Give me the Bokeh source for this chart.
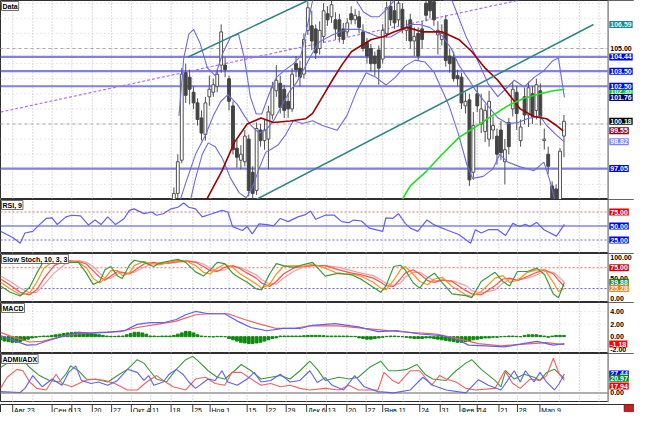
from bokeh.plotting import figure
from bokeh.layouts import column
from bokeh.models import Range1d, Label
from bokeh.core.properties import value
from bokeh.embed import file_html
from bokeh.resources import INLINE

# ---------------- data ----------------
first_candle_day = 44
opens = [94.5, 95.4, 97.6, 103.4, 103.1, 102.1, 101.4, 100.4, 99.3, 101.8,
         102.1, 102.5, 103.9, 103.9, 103.0, 101.2, 98.4, 97.6, 97.5, 99.0,
         96.8, 95.6, 99.6, 98.9, 99.0, 100.6, 102.2, 102.7, 102.3, 101.5,
         101.0, 104.0, 103.7, 103.3, 106.2, 106.5, 106.3, 105.0, 105.8, 107.3,
         107.1, 106.9, 106.9, 106.3, 106.1, 107.3, 106.9, 107.1, 106.1, 105.4,
         105.0, 104.5, 104.9, 104.3, 106.0, 107.8, 107.5, 106.9, 107.6, 106.2,
         106.9, 105.5, 106.0, 106.3, 108.0, 108.2, 108.1, 105.9, 105.6, 106.9,
         104.5, 104.4, 103.2, 103.1, 101.2, 101.6, 96.8, 102.0, 100.0, 99.5,
         99.0, 99.6, 99.2, 99.6, 97.5, 100.1, 101.0, 102.1, 98.9, 101.8,
         100.6, 102.0, 100.9, 102.2, 98.9, 98.0, 95.9, 95.7, 95.0, 99.2]
closes = [95.4, 97.5, 103.3, 101.9, 102.3, 101.4, 100.3, 99.4, 101.4, 102.3,
          102.6, 103.3, 106.1, 103.6, 101.5, 98.3, 97.8, 98.0, 99.2, 95.6,
          95.4, 99.7, 98.9, 99.6, 100.8, 102.4, 102.9, 101.1, 100.9, 101.0,
          103.3, 103.6, 103.1, 105.6, 107.7, 105.5, 104.7, 106.2, 107.5, 106.9,
          107.9, 106.3, 105.8, 105.6, 106.7, 106.9, 107.2, 106.4, 105.0, 104.5,
          104.0, 104.0, 103.7, 106.2, 107.7, 106.9, 106.7, 108.0, 106.3, 106.4,
          105.5, 105.8, 104.5, 105.6, 107.2, 107.5, 106.9, 106.2, 106.0, 104.2,
          104.0, 103.0, 103.0, 101.4, 101.5, 96.3, 99.9, 101.2, 101.0, 100.9,
          101.5, 99.9, 98.0, 98.1, 98.3, 98.5, 102.3, 100.7, 99.8, 100.6,
          102.4, 100.5, 102.6, 100.5, 99.0, 97.2, 95.0, 94.8, 98.2, 100.18]
highs = [95.8, 98.0, 103.7, 104.0, 103.6, 102.5, 101.7, 100.9, 101.8, 103.2,
         103.0, 103.6, 106.6, 104.4, 103.2, 101.5, 99.0, 98.6, 99.6, 99.3,
         97.2, 100.1, 100.0, 100.3, 101.2, 102.8, 103.9, 103.2, 102.6, 102.0,
         103.7, 104.5, 104.2, 106.0, 108.1, 107.5, 106.6, 106.8, 108.0, 107.8,
         108.2, 107.4, 107.3, 106.7, 107.0, 107.8, 107.6, 107.5, 106.6, 105.7,
         105.3, 104.8, 105.2, 106.6, 108.1, 108.2, 108.2, 108.2, 108.0, 106.9,
         107.3, 106.4, 106.4, 106.8, 108.2, 108.2, 108.2, 106.8, 106.6, 107.2,
         105.0, 104.8, 103.6, 103.4, 102.1, 102.0, 100.8, 102.6, 102.0, 101.3,
         102.2, 100.5, 99.7, 100.2, 99.0, 100.4, 102.8, 102.5, 100.3, 102.4,
         102.8, 102.5, 103.0, 102.7, 99.7, 98.5, 96.2, 96.0, 98.4, 100.6]
lows = [94.2, 95.1, 97.4, 101.4, 101.3, 101.0, 99.9, 98.9, 98.9, 101.2,
        101.8, 102.1, 103.4, 103.1, 100.9, 98.0, 97.1, 97.0, 97.2, 95.2,
        94.9, 95.3, 98.5, 98.3, 97.0, 100.3, 101.8, 100.7, 100.4, 100.4,
        100.8, 103.1, 102.5, 103.0, 105.9, 104.9, 104.3, 104.6, 105.4, 106.5,
        106.7, 105.6, 105.4, 105.3, 105.8, 106.6, 106.6, 106.0, 104.8, 104.0,
        103.5, 103.2, 102.6, 104.0, 105.7, 106.5, 106.3, 106.5, 106.0, 105.5,
        105.0, 104.5, 104.2, 105.0, 106.8, 107.0, 106.5, 104.6, 105.2, 103.8,
        103.4, 102.8, 102.5, 101.0, 100.7, 95.9, 96.3, 100.8, 99.4, 98.8,
        98.5, 99.0, 97.3, 97.6, 96.0, 98.0, 100.5, 99.6, 98.5, 100.0,
        99.8, 100.0, 100.3, 99.9, 98.3, 96.7, 94.5, 94.3, 94.6, 97.8]

ma_red_day = [51.5, 56.2, 59.4, 62.6, 66.1, 69.3, 73.5, 77.5, 79.2, 81.7, 84.2, 86.6,
              89.1, 91.6, 94.1, 97.3, 99.8, 103.2, 107.2, 112.1, 116.3, 119.6, 123.0,
              126.2, 129.5, 131.9, 135.4, 138.6, 141.1, 142.8]
ma_red = [94.6, 96.9, 98.8, 100.0, 100.4, 100.1, 100.2, 100.35, 100.7, 101.8, 102.9, 103.9,
          104.8, 105.2, 105.6, 105.8, 106.1, 106.4, 106.1, 106.1, 105.6, 104.8, 103.7,
          102.9, 101.8, 101.0, 100.5, 100.35, 99.9, 99.55]
ma_green_day = [101.5, 104.0, 108.2, 112.1, 116.3, 120.5, 124.5, 128.7, 132.9, 136.9, 140.3, 143.1]
ma_green = [94.8, 95.9, 96.9, 98.0, 99.1, 99.8, 100.5, 101.2, 101.7, 102.0, 102.2, 102.3]

bb_up_day = [45.3, 46.5, 47.8, 49.0, 50.7, 52.5, 54.5, 56.4, 58.4, 60.4, 61.9, 63.4, 64.9,
             66.3, 68.1, 70.0, 72.3, 74.3, 76.2, 77.7, 79.2, 81.7, 85.4, 88.6, 90.3, 92.1,
             94.1, 96.0, 97.8, 99.5, 101.5, 105.2, 108.9, 112.6, 114.6, 118.1, 120.5,
             123.8, 126.2, 128.7, 130.4, 132.9, 135.4, 137.9, 140.3, 141.6, 143.1]
bb_up = [100.54, 104.36, 105.95, 106.27, 105.31, 103.72, 103.21, 104.68, 105.76, 105.95,
         104.36, 101.81, 100.66, 100.66, 101.94, 103.09, 103.6, 103.98, 104.49, 106.27,
         108.18, 109.45, 109.77, 108.82, 108.18, 107.42, 107.1, 107.1, 107.54, 108.05,
         108.94, 109.45, 109.14, 108.18, 108.18, 105.82, 104.55, 102.64, 101.81, 102.45,
         102.9, 102.45, 103.09, 103.53, 104.23, 104.36, 101.76]
bb_mid_day = [45.0, 47.0, 49.5, 52.0, 54.0, 55.9, 57.7, 60.1, 61.9, 63.6, 65.6, 67.3, 69.3,
              71.3, 73.3, 75.2, 77.2, 78.7, 80.9, 84.2, 87.9, 91.1, 93.6, 96.0, 99.0, 101.5,
              104.0, 106.4, 108.9, 112.1, 114.4, 116.3, 118.8, 120.5, 123.8, 126.2, 128.7,
              131.2, 133.7, 136.9, 138.6, 141.1, 143.1]
bb_mid = [94.49, 96.08, 97.99, 99.26, 100.54, 101.49, 101.94, 101.3, 100.54, 99.9, 99.39,
          99.58, 100.22, 101.17, 102.13, 102.77, 103.72, 104.49, 105.44, 105.89, 106.27,
          106.27, 106.01, 105.76, 105.76, 106.14, 106.59, 106.59, 106.4, 105.82, 105.0,
          103.91, 102.96, 102.26, 101.17, 100.41, 100.03, 100.09, 100.35, 100.54, 99.9,
          99.26, 98.82]
bb_low_day = [47.8, 49.5, 51.2, 52.7, 54.5, 56.4, 58.4, 60.6, 62.4, 63.9, 65.6, 67.3, 68.6,
              70.5, 72.3, 74.3, 76.7, 79.2, 81.7, 85.4, 87.9, 90.3, 92.8, 95.3, 97.8, 100.2,
              102.7, 105.2, 107.7, 110.1, 113.9, 116.3, 118.3, 119.8, 122.5, 125.0, 126.7,
              128.7, 131.9, 135.4, 137.9, 139.4, 140.8, 143.1]
bb_low = [94.49, 96.4, 97.99, 98.75, 98.5, 97.67, 96.4, 95.44, 95.12, 95.76, 97.03, 98.12,
          98.31, 98.63, 99.26, 100.22, 100.03, 100.22, 99.9, 99.58, 100.54, 102.13, 103.4,
          103.09, 102.58, 103.09, 103.85, 104.23, 104.11, 103.4, 101.17, 99.26, 97.35,
          96.4, 96.53, 97.03, 97.99, 97.48, 97.16, 96.91, 97.48, 96.27, 94.8, 93.53]

trend_up_day = [47.5, 78.0]
trend_up_price = [104.42, 108.18]
trend_low_day = [64.9, 150.5]
trend_low_price = [95.0, 106.59]
trend_dash_day = [0.0, 131.2]
trend_dash_price = [100.79, 108.18]
level_prices = [104.44, 103.50, 102.50, 97.05]

rsi_day = [0.0, 3.2, 5.0, 6.2, 8.2, 9.9, 11.6, 13.1, 14.4, 16.6, 18.1, 20.3, 22.3, 24.0, 25.5,
           27.2, 29.2, 31.4, 32.7, 33.9, 36.4, 38.4, 39.6, 41.3, 43.3, 45.0, 46.5, 47.8, 49.5,
           51.2, 53.7, 56.2, 57.7, 58.9, 61.4, 62.6, 63.9, 65.6, 67.6, 69.3, 71.0, 73.0, 75.5,
           77.2, 78.7, 80.0, 82.4, 84.7, 86.6, 88.4, 89.6, 91.6, 93.6, 97.0, 97.8, 99.5, 101.0,
           102.7, 104.0, 105.9, 108.2, 110.1, 113.1, 116.3, 119.3, 120.5, 122.0, 123.8, 126.2,
           128.2, 130.0, 131.7, 133.2, 134.4, 136.1, 137.9, 141.1, 143.1]
rsi = [40.5, 29, 19.3, 37.6, 40.5, 52.6, 63.5, 64.7, 52.6, 66.4, 69.3, 68, 52, 60.7, 52.6,
       66.4, 52.6, 63.5, 77.9, 80.7, 72.1, 75, 69.3, 72, 80.7, 83.6, 91, 83.6, 80.7,
       66.4, 72, 78, 75, 49, 42, 49, 36, 53.8, 52.6, 50.3, 63.5, 57.8, 66.4,
       69.8, 76.7, 62, 69.3, 69.3, 57.8, 56, 60.7, 59, 46.3, 40.5, 64.7, 63.5, 72,
       54.8, 46.3, 40.5, 60.7, 52, 43.4, 34.8, 19.3, 43.4, 37.6, 43.4, 43.4,
       33, 54.8, 49, 53, 49, 56.6, 43.4, 32, 53]

sto_day = [0.0, 2.5, 5.0, 7.4, 9.2, 11.1, 13.6, 16.6, 19.8, 21.8, 23.5, 25.2, 26.5, 28.0, 29.7,
           30.9, 32.7, 33.9, 36.4, 38.9, 40.3, 42.8, 45.0, 47.0, 49.5, 51.5, 53.2, 55.0, 56.9,
           58.9, 60.6, 62.6, 64.9, 66.3, 68.3, 70.0, 71.8, 74.3, 76.7, 79.2, 82.4, 85.9, 89.1,
           91.6, 94.6, 96.5, 97.8, 99.8, 101.5, 102.7, 104.7, 106.4, 108.4, 110.1, 112.1, 114.6,
           118.1, 119.6, 122.0, 125.5, 127.5, 129.2, 131.2, 133.7, 136.1, 138.1, 140.3, 141.6, 143.1]
sto_k = [31, 16, 7, 28, 62, 93, 95, 88, 88, 62, 35, 42, 70, 78, 55, 49, 81, 93, 88, 78,
         86, 91, 95, 88, 65, 55, 70, 88, 85, 62, 51, 40, 24, 22, 60, 85, 80, 76, 82, 88,
         55, 62, 58, 47, 28, 16, 31, 78, 81, 70, 39, 26, 51, 62, 39, 12, 8, 3, 42, 64,
         42, 31, 66, 66, 74, 58, 12, 3, 39.88]
sto_d = [40, 24, 10, 15, 40, 75, 92, 92, 88, 75, 50, 38, 50, 68, 68, 56, 62, 80, 90, 84,
         82, 88, 92, 92, 80, 64, 60, 74, 84, 76, 62, 50, 36, 26, 35, 60, 78, 80, 78, 84,
         74, 60, 60, 54, 40, 26, 22, 45, 70, 78, 60, 42, 34, 48, 52, 30, 10, 6, 18, 50,
         56, 40, 45, 64, 70, 70, 40, 18, 25.28]
sto_slow = [48, 33, 16, 10, 22, 50, 80, 93, 90, 84, 68, 52, 45, 55, 66, 64, 60, 68, 84, 88,
            85, 86, 90, 92, 88, 78, 68, 66, 76, 80, 74, 62, 50, 38, 30, 42, 60, 74, 78, 80,
            80, 70, 62, 58, 50, 40, 32, 30, 48, 62, 70, 60, 44, 40, 46, 42, 20, 12, 10, 32,
            48, 50, 44, 54, 64, 70, 60, 45, 30]
sto_slow2 = [55, 42, 26, 15, 16, 35, 62, 85, 92, 88, 78, 62, 50, 50, 60, 64, 62, 64, 76, 86,
             86, 86, 88, 90, 90, 84, 74, 68, 70, 78, 76, 68, 58, 46, 36, 36, 50, 66, 76, 80,
             80, 76, 68, 62, 56, 46, 38, 32, 38, 52, 64, 64, 52, 44, 44, 44, 32, 20, 14, 22,
             38, 48, 46, 50, 58, 66, 64, 54, 40]

macd_day = [0.0, 3.2, 6.7, 9.2, 12.4, 16.6, 19.8, 23.0, 27.2, 31.4, 34.7, 37.9, 41.3, 44.6,
            47.0, 49.5, 52.7, 56.9, 60.1, 63.6, 67.6, 71.8, 76.0, 79.2, 84.9, 90.8, 95.8,
            100.7, 106.4, 112.1, 116.3, 118.8, 123.0, 128.0, 131.9, 136.1, 140.3, 143.1]
macd = [0.18, -0.58, -1.35, -1.26, -0.58, 0.18, 0.69, 0.58, 0.69, 0.95, 1.97, 2.23, 2.23,
        2.74, 3.5, 4.03, 3.66, 3.66, 2.49, 1.46, 0.95, 1.31, 1.31, 1.82, 2.08, 1.57, 0.8,
        0.95, 0.43, 0.18, -0.58, -1.35, -1.46, -1.62, -1.2, -0.74, -1.35, -1.11]
signal_day = [0.0, 3.2, 7.4, 10.6, 14.9, 19.1, 24.8, 30.4, 34.7, 39.6, 44.6, 49.5, 52.7, 57.7,
              61.9, 66.1, 70.0, 74.3, 78.5, 85.9, 92.3, 98.3, 104.0, 110.6, 116.3, 121.3,
              127.0, 132.9, 138.6, 143.1]
signal = [0.69, -0.08, -0.85, -0.74, -0.08, 0.43, 0.69, 0.8, 1.46, 1.97, 2.49, 3.5, 3.66,
          3.66, 2.74, 1.97, 1.31, 1.31, 1.72, 1.72, 1.31, 0.95, 0.69, 0.43, -0.34, -1.11,
          -1.46, -1.2, -0.95, -1.26]
macd_hist = [-0.5, -0.7, -0.8, -0.9, -0.9, -0.8, -0.6, -0.4, -0.2,
             -0.1, 0.05, 0.1,
             0.1, 0.2, 0.3, 0.4, 0.5, 0.6, 0.65, 0.7, 0.7, 0.65, 0.6, 0.5, 0.4, 0.3, 0.2, 0.1,
             0.05, 0.05, 0.1, 0.1,
             0.3, 0.5, 0.7, 0.7, 0.6, 0.4,
             0.1, 0.1, 0.05, 0.1, 0.1, 0.1, 0.2,
             0.4, 0.6, 0.85, 0.8, 0.6, 0.3,
             0.1, 0.05, 0.0, -0.05, 0.05, 0.05, 0.0,
             -0.3, -0.5, -0.7, -0.9, -1.0, -1.1, -1.1, -1.0, -0.9, -0.7, -0.5, -0.3, -0.2,
             0.1, 0.1, 0.1, 0.1, 0.1, 0.1, 0.15, 0.2, 0.2, 0.2, 0.2, 0.15, 0.1, 0.1, 0.1, 0.1,
             0.1, 0.1, 0.05, 0.05,
             -0.2, -0.3, -0.4, -0.4, -0.3, -0.2, -0.1,
             0.05, 0.1, 0.1, 0.05, 0.0, -0.1,
             -0.2, -0.3, -0.3, -0.3, -0.2, -0.2, -0.3, -0.4,
             -0.5, -0.6, -0.7, -0.8, -0.9, -0.9, -0.8, -0.7, -0.5, -0.4, -0.3,
             -0.2, -0.2, -0.1, -0.1, 0.0, 0.05, 0.1, 0.1, 0.05, 0.0,
             0.2, 0.3, 0.3, 0.3, 0.2, 0.1,
             -0.1, 0.1, 0.2, 0.2, 0.2]

adx_day = [0.0, 2.5, 5.0, 7.4, 9.9, 12.4, 14.9, 16.6, 17.8, 19.8, 21.8, 24.8, 27.2, 29.7,
           32.2, 34.7, 36.4, 37.9, 39.6, 42.1, 44.6, 47.0, 48.8, 50.2, 52.7, 55.0, 56.9,
           59.4, 61.1, 63.6, 66.1, 68.6, 71.0, 73.5, 76.0, 78.5, 80.4, 82.4, 85.9, 88.4,
           90.8, 93.6, 96.5, 98.5, 100.7, 103.2, 105.7, 107.7, 109.7, 113.1, 115.6, 118.1,
           119.6, 122.0, 125.5, 127.0, 128.2, 130.4, 132.9, 135.4, 136.9, 138.6, 140.6, 143.1]
adx = [36.6, 45.8, 52.8, 36.6, 25, 18, 15.7, 27, 39, 32, 20, 19, 15.7, 25, 34, 48, 43, 32,
       20, 15.7, 34, 48, 52.8, 45.8, 32, 22.6, 20, 32, 41, 32, 20, 22.6, 25, 20, 32, 45.8,
       34, 18, 22.6, 20, 22.6, 36.6, 45.8, 32, 32, 34, 41, 27, 20, 18, 32, 43, 48, 34,
       18, 8.8, 32, 20, 27, 22.6, 18, 29.6, 34, 20.97]
pdi_day = [0.0, 5.0, 6.2, 8.2, 10.6, 13.1, 15.6, 17.3, 19.1, 20.5, 23.0, 24.8, 27.2, 29.7,
           32.2, 34.7, 36.4, 37.6, 38.9, 41.3, 42.8, 44.6, 46.3, 47.8, 49.5, 52.7, 54.5,
           56.2, 57.7, 60.1, 62.6, 64.4, 66.1, 68.6, 71.0, 73.5, 76.0, 78.5, 80.4, 82.4,
           84.2, 87.1, 89.9, 92.3, 95.8, 99.8, 104.0, 107.2, 109.7, 113.1, 118.1, 121.3,
           123.8, 127.0, 130.4, 131.9, 133.2, 135.4, 136.9, 138.6, 140.6, 141.8, 143.1]
pdi = [1.8, 0.5, 6.5, 25, 8.8, 20, 11, 29.6, 39, 18, 13.5, 15.7, 11, 18, 34, 29.6, 18, 25,
       11, 15.7, 27, 34, 27, 15.7, 6.5, 20, 18, 32, 15.7, 11, 20, 29.6, 15.7, 18, 27, 15.7,
       18, 32, 15, 22, 11, 4.2, 25, 8.8, 1.8, 0, 4.2, 22.6, 11, 4.2, 0, 19, 11, 4.2, 32,
       15.7, 32, 15.7, 29.6, 15.7, 4.2, 13.5, 27.44]
mdi_day = [0.0, 1.7, 4.2, 5.7, 7.4, 9.2, 11.6, 14.1, 15.6, 18.1, 21.5, 24.0, 26.5, 29.0,
           32.2, 34.7, 37.1, 39.6, 41.3, 43.8, 47.0, 49.5, 52.0, 54.5, 56.9, 58.7, 61.1,
           63.6, 66.1, 68.6, 71.0, 73.5, 76.0, 78.5, 82.4, 85.9, 88.4, 90.8, 95.8, 97.3,
           99.5, 101.0, 104.0, 106.4, 109.4, 111.4, 113.1, 115.6, 118.1, 120.5, 125.5,
           128.0, 130.0, 131.9, 134.4, 136.9, 138.6, 140.3, 141.8, 143.1]
mdi = [6.5, 22.6, 34, 32, 15.7, 6.5, 4.2, 27, 13.5, 8.8, 18, 20, 18, 13.5, 4.2, 4.2, 15.7,
       25, 18, 8.8, 4.2, 20, 22.6, 13.5, 11, 29.6, 29.6, 20, 11, 13.5, 8.8, 11, 6.5, 4.2,
       6.5, 4.2, 11, 4.2, 4.2, 29.6, 18, 13.5, 32, 32, 11, 25, 20, 15.7, 6.5, 4.2, 6.5,
       32, 13.5, 6.5, 20, 18, 25, 50, 27, 17.94]

grid_days = [3.1, 8.2, 13.1, 18.1, 23.3, 28.2, 33.2, 38.1, 43.3, 48.8, 53.2, 58.0, 62.6,
             67.6, 72.5, 77.7, 82.7, 87.9, 92.8, 97.0, 102.2, 106.4, 111.6, 116.6, 121.0,
             126.5, 131.2, 136.9, 141.9, 146.9, 151.9]
tick_days = [3.1, 13.1, 18.1, 23.3, 28.2, 33.2, 38.1, 43.3, 48.8, 53.2, 62.6, 67.6, 72.5,
             77.7, 82.7, 87.9, 92.8, 97.0, 106.4, 111.6, 116.6, 121.0, 126.5, 131.2, 136.9]
tick_labels = ["Авг 23", "Сен 6", "13", "20", "27", "Окт 4", "11", "18", "25", "Ноя 1",
               "15", "22", "29", "Дек 6", "13", "20", "27", "Янв 11", "24", "31", "Фев 7",
               "14", "21", "28", "Мар 9"]

# ---------------- layout ----------------
W = 634
X_PLOT_END = 154.2
X_END = 160.9
FONT = "Liberation Sans"
xr = Range1d(0, X_END)


def make_panel(h, ylo, yhi, hgrid=()):
    p = figure(width=W, height=h, x_range=xr, y_range=Range1d(ylo, yhi),
               output_backend="svg", toolbar_location=None,
               x_axis_location=None, y_axis_location=None, min_border=0,
               background_fill_color="white", border_fill_color="white",
               outline_line_color="#303030", outline_line_width=1)
    p.grid.visible = False
    n = len(grid_days)
    p.segment(x0=grid_days, y0=[ylo] * n, x1=grid_days, y1=[yhi] * n,
              line_color="#b8b8b8", line_dash="1 2", line_width=1)
    if hgrid:
        m = len(hgrid)
        p.segment(x0=[0] * m, y0=list(hgrid), x1=[X_PLOT_END] * m, y1=list(hgrid),
                  line_color="#cfcfcf", line_dash="1 3", line_width=1)
    return p


def finish_panel(p, ylo, yhi):
    p.quad(left=[X_PLOT_END], right=[X_END], bottom=[ylo], top=[yhi],
           fill_color="white", line_color=None)
    p.segment(x0=[X_PLOT_END], y0=[ylo], x1=[X_PLOT_END], y1=[yhi],
              line_color="#8a8a8a", line_width=1.5)


def title(p, h, text):
    p.add_layout(Label(x=1, y=h - 1, x_units="screen", y_units="screen", text=text,
                       text_baseline="top", text_font=FONT, text_font_size="7px",
                       text_font_style="bold", text_color="black",
                       background_fill_color="white", border_line_color="#707070",
                       padding=1))


def vlabel(p, y, text, bg=None, color="white"):
    p.add_layout(Label(x=X_PLOT_END + 0.3, y=y, text=text, text_baseline="middle",
                       text_align="left", text_font=FONT, text_font_size="7px",
                       text_font_style="bold",
                       text_color=(color if bg else "black"),
                       background_fill_color=bg, padding=1))


def line(p, xs, ys, color, width=1.0, dash="solid"):
    p.line(xs, ys, line_color=color, line_width=width, line_dash=dash)


# ---- price panel ----
H_PRICE, P_LO, P_HI = 199, 95.0, 108.18
pp = make_panel(H_PRICE, P_LO, P_HI, hgrid=range(96, 109))
pp.segment(x0=[0, 0], y0=[100, 105], x1=[X_PLOT_END] * 2, y1=[100, 105],
           line_color="#a8a8a8", line_dash="3 3", line_width=1)
nl = len(level_prices)
pp.segment(x0=[0] * nl, y0=level_prices, x1=[X_PLOT_END] * nl, y1=level_prices,
           line_color="#7272e6", line_width=2.2, line_alpha=0.9)
line(pp, trend_dash_day, trend_dash_price, "#b46ef0", 1.2, "3 2")

days = [first_candle_day + i for i in range(len(closes))]
pp.segment(x0=days, y0=lows, x1=days, y1=highs, line_color="#505050", line_width=1)
up = [i for i in range(len(closes)) if closes[i] >= opens[i]]
dn = [i for i in range(len(closes)) if closes[i] < opens[i]]
pp.vbar(x=[days[i] for i in up], top=[closes[i] for i in up],
        bottom=[opens[i] for i in up], width=0.72, fill_color="white",
        line_color="#505050", line_width=1)
pp.vbar(x=[days[i] for i in dn], top=[opens[i] for i in dn],
        bottom=[closes[i] for i in dn], width=0.72, fill_color="#444444",
        line_color="#444444", line_width=1)

line(pp, bb_up_day, bb_up, "#6c6ce0", 1.1)
line(pp, bb_mid_day, bb_mid, "#6c6ce0", 1.1)
line(pp, bb_low_day, bb_low, "#6c6ce0", 1.1)
line(pp, ma_red_day, ma_red, "#a00000", 1.6)
line(pp, ma_green_day, ma_green, "#1ee01e", 1.6)
line(pp, trend_up_day, trend_up_price, "#2e8585", 1.5)
line(pp, trend_low_day, trend_low_price, "#2e8585", 1.5)
finish_panel(pp, P_LO, P_HI)
title(pp, H_PRICE, "Data")
vlabel(pp, trend_low_price[-1], "106.59", "#2e8080", "#d8ffff")
vlabel(pp, 105.0, "105.00")
vlabel(pp, level_prices[0], "104.44", "#0000f0")
vlabel(pp, level_prices[1], "103.50", "#0000f0")
vlabel(pp, ma_green[-1] - 0.12, "102.30", "#10c010")
vlabel(pp, level_prices[2], "102.50", "#0000f0")
vlabel(pp, bb_up[-1], "101.76", "#000070")
vlabel(pp, closes[-1], "100.18", "#000000")
vlabel(pp, ma_red[-1], "99.55", "#8b0000")
vlabel(pp, bb_mid[-1], "98.82", "#8080ff")
vlabel(pp, level_prices[3], "97.05", "#0000f0")

# ---- RSI ----
H_RSI, R_LO, R_HI = 54, 0.9, 97.4
pr = make_panel(H_RSI, R_LO, R_HI)
pr.segment(x0=[0], y0=[75], x1=[X_PLOT_END], y1=[75], line_color="#e07070", line_dash="2 2")
pr.segment(x0=[0], y0=[50], x1=[X_PLOT_END], y1=[50], line_color="#4848e8", line_width=1.2)
pr.segment(x0=[0], y0=[25], x1=[X_PLOT_END], y1=[25], line_color="#6060e0", line_dash="2 2")
line(pr, rsi_day, rsi, "#6060f0", 1.2)
finish_panel(pr, R_LO, R_HI)
title(pr, H_RSI, "RSI, 9")
vlabel(pr, 75, "75.00", "#e00000")
vlabel(pr, 50, "50.00", "#0000f0")
vlabel(pr, 25, "25.00", "#0000f0")

# ---- Slow stoch ----
H_STO, S_LO, S_HI = 49, -8.5, 109.2
ps = make_panel(H_STO, S_LO, S_HI)
ps.segment(x0=[0], y0=[75], x1=[X_PLOT_END], y1=[75], line_color="#e07070", line_dash="2 2")
ps.segment(x0=[0], y0=[25], x1=[X_PLOT_END], y1=[25], line_color="#6060e0", line_dash="2 2")
line(ps, sto_day, sto_slow2, "#ff9a9a", 1.2)
line(ps, sto_day, sto_slow, "#ff5050", 1.2)
line(ps, sto_day, sto_d, "#ff9018", 1.2)
line(ps, sto_day, sto_k, "#3c9a3c", 1.2)
finish_panel(ps, S_LO, S_HI)
title(ps, H_STO, "Slow Stoch, 10, 3, 3")
vlabel(ps, 100, "100.00")
vlabel(ps, 75, "75.00", "#d00000")
vlabel(ps, 50, "50.00")
vlabel(ps, sto_k[-1], "39.88", "#1a7a1a")
vlabel(ps, sto_d[-1], "25.28", "#ff8000")
vlabel(ps, 0, "0.00")

# ---- MACD ----
H_MACD, M_LO, M_HI = 51, -2.69, 5.46
pm = make_panel(H_MACD, M_LO, M_HI, hgrid=(4, 2, -2))
pm.vbar(x=list(range(len(macd_hist))), top=macd_hist, bottom=0, width=0.7,
        fill_color="#0a8a0a", line_color="#0a8a0a", line_width=1)
line(pm, signal_day, signal, "#f06060", 1.2)
line(pm, macd_day, macd, "#6060f0", 1.2)
finish_panel(pm, M_LO, M_HI)
title(pm, H_MACD, "MACD")
vlabel(pm, 4, "4.00")
vlabel(pm, 2, "2.00")
vlabel(pm, 0, "0.00")
vlabel(pm, -1.18, "-1.18", "#ff0000")
vlabel(pm, -2, "-2.00")

# ---- ADMI / ADX ----
H_ADX, A_LO, A_HI = 49, -13.9, 56.9
pa = make_panel(H_ADX, A_LO, A_HI)
pa.segment(x0=[0], y0=[0], x1=[X_PLOT_END], y1=[0], line_color="#b0b0b0", line_width=2)
line(pa, adx_day, adx, "#3c9a3c", 1.1)
line(pa, mdi_day, mdi, "#f06060", 1.1)
line(pa, pdi_day, pdi, "#6060f0", 1.1)
finish_panel(pa, A_LO, A_HI)
title(pa, H_ADX, "ADMI/ADX")
vlabel(pa, pdi[-1], "27.44", "#0000f0")
vlabel(pa, adx[-1], "20.97", "#108010")
vlabel(pa, mdi[-1] - 8, "17.94", "#f00000")
vlabel(pa, 0, "0.00")

# ---- date strip ----
H_DATE = 10
pdt = figure(width=W, height=H_DATE, x_range=xr, y_range=Range1d(0, 1),
             output_backend="svg", toolbar_location=None, x_axis_location=None,
             y_axis_location=None, min_border=0, background_fill_color="white",
             border_fill_color="white", outline_line_color="#303030", outline_line_width=1)
pdt.grid.visible = False
nt = len(tick_days)
pdt.segment(x0=tick_days, y0=[0.05] * nt, x1=tick_days, y1=[0.95] * nt,
            line_color="#404040", line_width=1)
pdt.text(x=[d + 0.35 for d in tick_days], y=[0.45] * nt, text=tick_labels,
         text_font=value(FONT), text_font_size="7px", text_baseline="middle",
         text_align="left", text_color="black")
pdt.quad(left=[158.3], right=[X_END], bottom=[0], top=[1], fill_color="#c82020",
         line_color="#801010")

layout = column(pp, pr, ps, pm, pa, pdt, spacing=0)
open("out.html", "w").write(file_html(layout, INLINE))
